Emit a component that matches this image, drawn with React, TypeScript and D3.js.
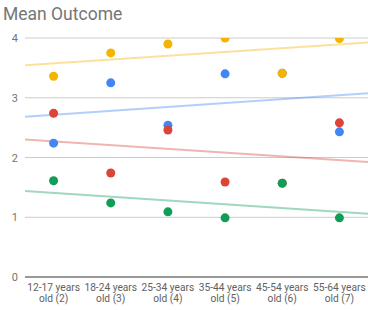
import React, { useEffect, useRef } from 'react';
import * as d3 from 'd3';

const categories = [
  '12-17 years|old (2)',
  '18-24 years|old (3)',
  '25-34 years|old (4)',
  '35-44 years|old (5)',
  '45-54 years|old (6)',
  '55-64 years|old (7)',
];

// drawing order follows the google palette: blue, red, yellow, green
const blueValues = [2.24, 3.25, 2.54, 3.4, 3.41, 2.43];
const redValues = [2.74, 1.74, 2.46, 1.59, 1.57, 2.58];
const yellowValues = [3.36, 3.75, 3.9, 4.0, 3.41, 3.99];
const greenValues = [1.61, 1.24, 1.09, 0.99, 1.57, 0.99];

const yTicks = [0, 1, 2, 3, 4];

const series = [
  { name: 'blue', values: blueValues, color: '#4285f4' },
  { name: 'red', values: redValues, color: '#db4437' },
  { name: 'yellow', values: yellowValues, color: '#f4b400' },
  { name: 'green', values: greenValues, color: '#0f9d58' },
];

const W = 368;
const H = 310;
const margin = { top: 38, right: 0, bottom: 33, left: 25 };

function fitLine(values: number[]) {
  const xs = values.map((_, i) => i);
  const mx = d3.mean(xs)!;
  const my = d3.mean(values)!;
  let sxy = 0;
  let sxx = 0;
  xs.forEach((x, i) => {
    sxy += (x - mx) * (values[i] - my);
    sxx += (x - mx) * (x - mx);
  });
  const slope = sxy / sxx;
  return (x: number) => my + slope * (x - mx);
}

const Chart: React.FC = () => {
  const svgRef = useRef<SVGSVGElement>(null);

  useEffect(() => {
    if (!svgRef.current) return;
    const svg = d3.select(svgRef.current);
    svg.selectAll('*').remove();

    const x = d3
      .scaleBand<number>()
      .domain(categories.map((_, i) => i))
      .range([margin.left, W - margin.right])
      .padding(0);
    const y = d3
      .scaleLinear()
      .domain([0, 4])
      .range([H - margin.bottom, margin.top]);
    const step = x.step();
    const cx = (i: number) => x(i)! + step / 2;

    svg
      .append('defs')
      .append('clipPath')
      .attr('id', 'plot-clip')
      .append('rect')
      .attr('x', margin.left)
      .attr('y', margin.top)
      .attr('width', W - margin.left - margin.right)
      .attr('height', H - margin.top - margin.bottom);

    // title
    svg
      .append('text')
      .attr('x', 3)
      .attr('y', 20)
      .attr('font-family', 'Roboto')
      .attr('font-size', 17.5)
      .attr('fill', '#757575')
      .text('Mean Outcome');

    // grid
    svg
      .append('g')
      .selectAll('line')
      .data(yTicks.filter((t) => t !== 0))
      .enter()
      .append('line')
      .attr('x1', margin.left)
      .attr('x2', W - margin.right)
      .attr('y1', (d) => y(d))
      .attr('y2', (d) => y(d))
      .attr('stroke', '#cccccc')
      .attr('stroke-width', 1);

    svg
      .append('g')
      .selectAll('text')
      .data(yTicks)
      .enter()
      .append('text')
      .attr('x', 18)
      .attr('y', (d) => y(d) + 4)
      .attr('text-anchor', 'end')
      .attr('font-family', 'Roboto')
      .attr('font-size', 11)
      .attr('fill', '#757575')
      .text((d) => d);

    const plot = svg.append('g').attr('clip-path', 'url(#plot-clip)');

    // trendlines
    series.forEach((s) => {
      const f = fitLine(s.values);
      const x0 = -0.5;
      const x1 = categories.length - 0.5;
      plot
        .append('line')
        .attr('x1', margin.left)
        .attr('x2', W - margin.right)
        .attr('y1', y(f(x0)))
        .attr('y2', y(f(x1)))
        .attr('stroke', s.color)
        .attr('stroke-opacity', 0.4)
        .attr('stroke-width', 2);
    });

    // points
    series.forEach((s) => {
      plot
        .append('g')
        .selectAll('circle')
        .data(s.values)
        .enter()
        .append('circle')
        .attr('cx', (_, i) => cx(i))
        .attr('cy', (d) => y(d))
        .attr('r', 4.5)
        .attr('fill', s.color);
    });

    // baseline
    svg
      .append('line')
      .attr('x1', margin.left)
      .attr('x2', W - margin.right)
      .attr('y1', y(0))
      .attr('y2', y(0))
      .attr('stroke', '#333333')
      .attr('stroke-width', 1);

    // category labels
    const labels = svg
      .append('g')
      .selectAll('text')
      .data(categories)
      .enter()
      .append('text')
      .attr('x', (_, i) => cx(i))
      .attr('y', y(0) + 14)
      .attr('text-anchor', 'middle')
      .attr('font-family', 'Roboto')
      .attr('font-size', 10.2)
      .attr('fill', '#616161');
    labels
      .selectAll('tspan')
      .data((d) => d.split('|'))
      .enter()
      .append('tspan')
      .attr('x', function () {
        return (this as SVGTSpanElement).parentElement!.getAttribute('x');
      })
      .attr('dy', (_, i) => (i === 0 ? 0 : 11))
      .text((d) => d);
  }, []);

  return (
    <svg
      ref={svgRef}
      width={W}
      height={H}
      style={{ position: 'absolute', left: 0, top: 0, background: '#fff' }}
    />
  );
};

export default function App() {
  return <Chart />;
}
